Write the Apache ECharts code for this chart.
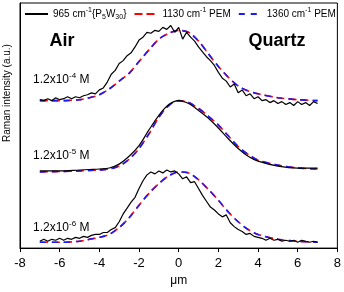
<!DOCTYPE html>
<html>
<head>
<meta charset="utf-8">
<script src="https://cdn.jsdelivr.net/npm/echarts@6.0.0/dist/echarts.min.js"></script>
<style>html,body{margin:0;padding:0;background:#fff}#c{width:344px;height:292px}</style>
</head>
<body>
<div id="c"></div>
<script>
// x positions (µm)
var xNoisy = [-7,-6.8,-6.6,-6.4,-6.2,-6,-5.8,-5.6,-5.4,-5.2,-5,
  -4.8,-4.6,-4.4,-4.2,-4,-3.8,-3.6,-3.4,-3.2,-3,
  -2.8,-2.6,-2.4,-2.2,-2,-1.8,-1.6,-1.4,-1.2,-1,
  -0.8,-0.6,-0.4,-0.2,0,0.2,0.4,0.6,0.8,1,
  1.2,1.4,1.6,1.8,2,2.2,2.4,2.6,2.8,3,
  3.2,3.4,3.6,3.8,4,4.2,4.4,4.6,4.8,5,
  5.2,5.4,5.6,5.8,6,6.2,6.4,6.6,6.8,7];
var xSmooth = [-7,-6,-5,-4.5,-4,-3.5,-3,-2.5,-2,-1.5,-1,-0.5,0,0.5,1,1.5,2,2.5,3,3.5,4,5,6,7];

// 1.2x10^-4 M (offset intensities, a.u.)
var black4 = [152,151,153,151,154,152,153,155,153,155,154,
  156,157,159,158,162,164,170,178,182,189,
  192,197,200,206,213,216,221,220,223,222,
  226,224,228,221,226,214,221,216,212,206,
  201,196,192,187,180,174,171,165,168,159,
  162,156,158,153,155,151,152,149,151,148,
  150,147,149,146,150,147,149,146,150,148];
var red4  = [151,151,152,154,157,163,171,179,191,203,214,220,223,221,212,199,186,175,166,161,158,154,152,151];
var blue4 = [151,151,152,154,157,163,171,179,191,203,214,220,223,221,212,199,186,175,166,161,158,154,152,151];

// 1.2x10^-5 M
var black5 = [79,79,80,80.5,81,82,86,94,105,121,136,147,151,148,141,133,123,112,102,94,89,84,82,82];
var red5   = [78,78.5,79,79.5,80,81,84,91,102,117,134,146,151,149,143,135,126,115,104,96,90,85,82,81];
var blue5  = [78,78.5,79,79.5,80,81,84,91,102,117,134,146,151,149,143,135,126,115,104,96,90,85,82,81];

// 1.2x10^-6 M
var black6 = [7,9,7,9,8,10,8,10,9,11,10,
  12,11,13,14,14,16,16,19,21,27,
  35,41,47,52,61,69,75,78,76,79,
  77,80,78,79,76,71,73,67,68,61,
  54,48,42,39,35,32,34,26,22,19,
  17,14,15,12,11,10,8,10,8,9,
  7,8,7,8,6,8,7,6,7,6];
var red6  = [6,6,7,9,11,14,21,31,44,56,66,74,78,77,70,60,49,37,27,19,14,9,7,6];
var blue6 = [6,6,7,9,11,14,21,31,44,56,66,74,78,77,70,60,49,37,27,19,14,9,7,6];

var xTicks = [-8,-6,-4,-2,0,2,4,6,8];
var seriesNames = ['965', '1130', '1360'];
var concLabels = ['-4', '-5', '-6'];

function pairs(xs, ys){ return xs.map(function(x,i){ return [x, ys[i]]; }); }

var FONT = 'Liberation Sans, Arial, sans-serif';
var blackStyle = {color:'#000', width:1.2, type:'solid'};
var redStyle = {color:'#ff0000', width:1.6, type:[8,4]};
var blueStyle = {color:'#1a1aff', width:1.6, type:[6,6]};

function ser(name, xs, ys, ls, smooth, z){
  return {name:name, type:'line', data:pairs(xs, ys), showSymbol:false, symbol:'none',
    smooth:smooth, lineStyle:ls, itemStyle:{color:ls.color}, z:z, animation:false, silent:true};
}

var series = [
  ser(seriesNames[1], xSmooth, red4, redStyle, 0.3, 2),
  ser(seriesNames[2], xSmooth, blue4, blueStyle, 0.3, 3),
  ser(seriesNames[0], xNoisy, black4, blackStyle, false, 4),
  ser(seriesNames[1], xSmooth, red5, redStyle, 0.3, 2),
  ser(seriesNames[2], xSmooth, blue5, blueStyle, 0.3, 3),
  ser(seriesNames[0], xSmooth, black5, blackStyle, 0.3, 4),
  ser(seriesNames[1], xSmooth, red6, redStyle, 0.3, 2),
  ser(seriesNames[2], xSmooth, blue6, blueStyle, 0.3, 3),
  ser(seriesNames[0], xNoisy, black6, blackStyle, false, 4)
];

var richBase = {
  n:{fontSize:10, fontFamily:FONT, color:'#000', lineHeight:14},
  sup:{fontSize:7, fontFamily:FONT, color:'#000', lineHeight:8, verticalAlign:'top'},
  sub:{fontSize:7, fontFamily:FONT, color:'#000', lineHeight:8, verticalAlign:'bottom'}
};
var legendText = {
  '965':'{n|965 cm}{sup|-1}{n|\u007BP}{sub|5}{n|W}{sub|30}{n|\u007D}',
  '1130':'{n|1130 cm}{sup|-1}{n| PEM}',
  '1360':'{n|1360 cm}{sup|-1}{n| PEM}'
};

var chart = echarts.init(document.getElementById('c'), null, {renderer:'canvas'});
chart.setOption({
  animation:false,
  backgroundColor:'#fff',
  grid:{left:20, right:5, top:3, bottom:38, show:true, borderColor:'#000', borderWidth:1, backgroundColor:'transparent'},
  legend:{
    data:seriesNames, top:7, left:24, width:330, padding:0, itemWidth:23, itemHeight:10, itemGap:7,
    itemStyle:{opacity:0},
    formatter:function(n){ return legendText[n]; },
    textStyle:{rich:richBase, fontSize:10, fontFamily:FONT, color:'#000'}
  },
  xAxis:{type:'value', min:-8, max:8, interval:2,
    axisLine:{show:true, onZero:false, lineStyle:{color:'#000', width:1}},
    axisTick:{show:true, inside:false, length:4, lineStyle:{color:'#000'}},
    axisLabel:{color:'#000', fontSize:13, fontFamily:FONT, margin:9,
      formatter:function(v){ return xTicks.indexOf(v) >= 0 ? String(v) : ''; }},
    splitLine:{show:false},
    name:'\u03bcm', nameLocation:'middle', nameGap:24,
    nameTextStyle:{color:'#000', fontSize:12, fontFamily:FONT}
  },
  yAxis:{type:'value', min:0, max:251,
    axisLine:{show:true, onZero:false, lineStyle:{color:'#000', width:1}},
    axisTick:{show:false}, axisLabel:{show:false}, splitLine:{show:false}
  },
  graphic:[
    {type:'text', x:7, y:93, rotation:Math.PI/2, style:{text:'Raman intensity (a.u.)', fill:'#000', font:'10px '+FONT, align:'center', verticalAlign:'middle'}},
    {type:'text', x:62, y:41, style:{text:'Air', fill:'#000', font:'bold 18px '+FONT, align:'center', verticalAlign:'middle'}},
    {type:'text', x:277, y:41, style:{text:'Quartz', fill:'#000', font:'bold 18px '+FONT, align:'center', verticalAlign:'middle'}},
    {type:'text', x:33, y:80, style:{text:'{n|1.2x10}{sup|'+concLabels[0]+'}{n| M}', align:'left', verticalAlign:'middle',
      rich:{n:{fontSize:12, fontFamily:FONT, fill:'#000', lineHeight:16}, sup:{fontSize:8, fontFamily:FONT, fill:'#000', lineHeight:9, verticalAlign:'top'}}}},
    {type:'text', x:33, y:156, style:{text:'{n|1.2x10}{sup|'+concLabels[1]+'}{n| M}', align:'left', verticalAlign:'middle',
      rich:{n:{fontSize:12, fontFamily:FONT, fill:'#000', lineHeight:16}, sup:{fontSize:8, fontFamily:FONT, fill:'#000', lineHeight:9, verticalAlign:'top'}}}},
    {type:'text', x:33, y:228, style:{text:'{n|1.2x10}{sup|'+concLabels[2]+'}{n| M}', align:'left', verticalAlign:'middle',
      rich:{n:{fontSize:12, fontFamily:FONT, fill:'#000', lineHeight:16}, sup:{fontSize:8, fontFamily:FONT, fill:'#000', lineHeight:9, verticalAlign:'top'}}}}
  ],
  series:series
});
</script>
</body>
</html>
